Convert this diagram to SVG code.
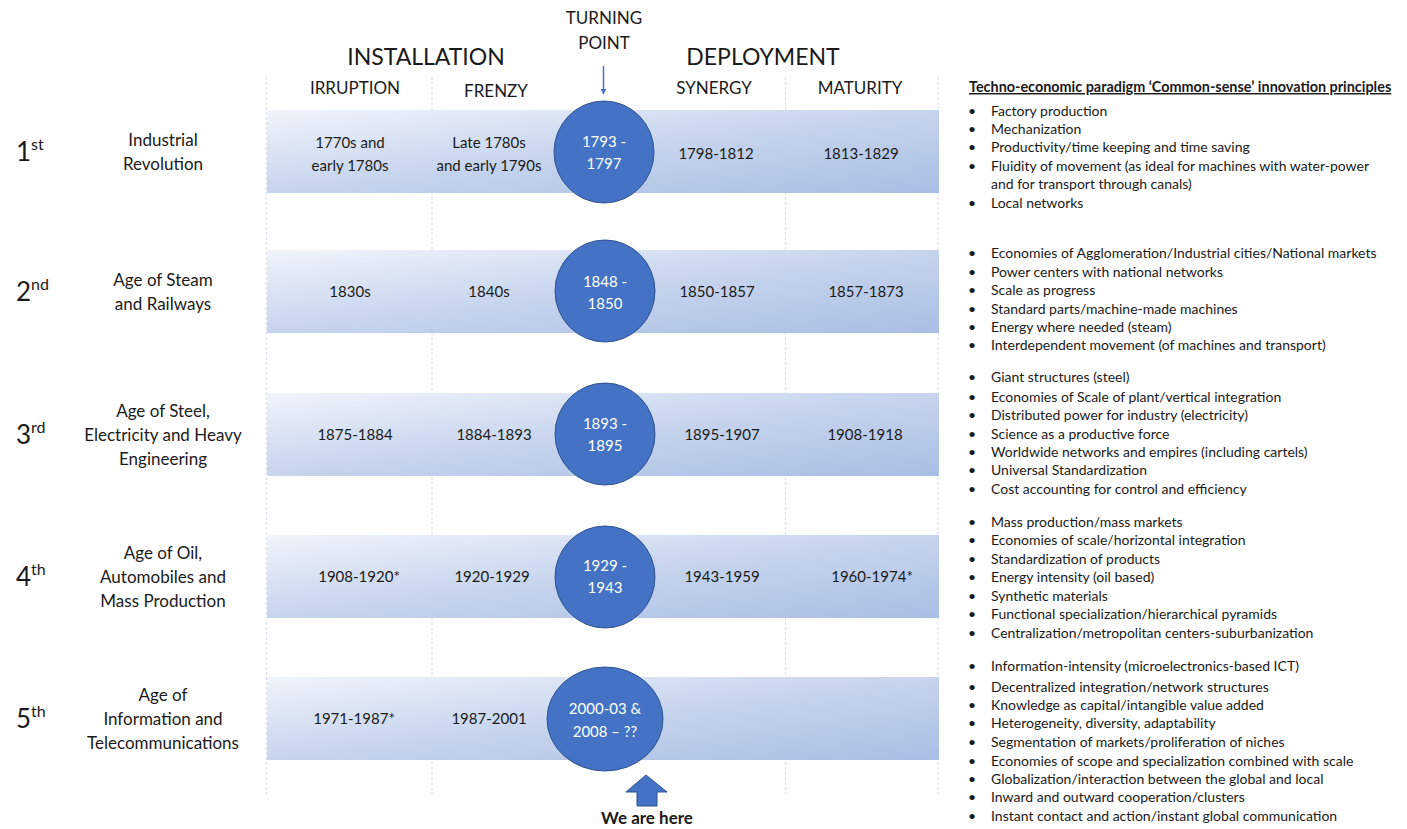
<svg xmlns="http://www.w3.org/2000/svg" width="1407" height="829" viewBox="0 0 1407 829">
<style>
text{font-family:Lato,"Open Sans","Liberation Sans",sans-serif;fill:#1a1a1a}
.big{font-size:23px}
.phase{font-size:17px}
.tp{font-size:17px}
.lab{font-size:17px;text-anchor:middle}
.d{font-size:15px;text-anchor:middle}
.c{font-size:15px;text-anchor:middle;fill:#ffffff}
.ord{font-size:26px}
.sup{font-size:16px}
.li{font-size:14px}
.hd{font-size:14.4px;font-weight:bold;text-decoration:underline}
.vl{stroke:#dbe3f0;stroke-width:1.2;stroke-dasharray:3 2}
.band{fill:url(#g)}
.circ{fill:#4472c4;stroke:#2f528f;stroke-width:1}
</style>
<defs>
<linearGradient id="g" x1="0" y1="0" x2="1" y2="1">
<stop offset="0" stop-color="#f1f4fb"/>
<stop offset="0.5" stop-color="#c6d4ed"/>
<stop offset="1" stop-color="#a9bee4"/>
</linearGradient>
<marker id="ah" viewBox="0 0 10 10" refX="9" refY="5" markerWidth="4" markerHeight="4" orient="auto">
<path d="M0,0 L10,5 L0,10 z" fill="#4472c4"/>
</marker>
</defs>
<rect width="1407" height="829" fill="#ffffff"/>

<g id="grid">
<line class="vl" x1="266.5" y1="77" x2="266.5" y2="794"/>
<line class="vl" x1="432" y1="77" x2="432" y2="794"/>
<line class="vl" x1="785.5" y1="77" x2="785.5" y2="794"/>
<line class="vl" x1="938" y1="77" x2="938" y2="794"/>
</g>

<g id="headers">
<text class="big" x="426" y="65" text-anchor="middle">INSTALLATION</text>
<text class="big" x="763" y="65" text-anchor="middle">DEPLOYMENT</text>
<text class="tp" x="604" y="24" text-anchor="middle">TURNING</text>
<text class="tp" x="604" y="49" text-anchor="middle">POINT</text>
<text class="phase" x="355" y="94" text-anchor="middle">IRRUPTION</text>
<text class="phase" x="496" y="97" text-anchor="middle">FRENZY</text>
<text class="phase" x="714" y="94" text-anchor="middle">SYNERGY</text>
<text class="phase" x="860" y="94" text-anchor="middle">MATURITY</text>
</g>

<g id="connectors">
<line x1="603.5" y1="66" x2="603.5" y2="94" stroke="#4472c4" stroke-width="1.5" marker-end="url(#ah)"/>
<path d="M646,775 L667,792 L657,792 L657,806 L637,806 L637,792 L626,792 Z" fill="#4472c4" stroke="#2f528f" stroke-width="1"/>
</g>

<g id="row1">
<rect class="band" x="267" y="110" width="672" height="83"/>
<text class="ord" x="16" y="161">1<tspan class="sup" dy="-11">st</tspan></text>
<text class="lab" x="163" y="146">Industrial</text>
<text class="lab" x="163" y="170">Revolution</text>
<text class="d" x="350" y="148">1770s and</text>
<text class="d" x="350" y="171">early 1780s</text>
<text class="d" x="489" y="148">Late 1780s</text>
<text class="d" x="489" y="171">and early 1790s</text>
<ellipse class="circ" cx="604" cy="152" rx="50" ry="51"/>
<text class="c" x="604" y="147">1793 -</text>
<text class="c" x="604" y="169">1797</text>
<text class="d" x="716" y="159">1798-1812</text>
<text class="d" x="861" y="159">1813-1829</text>
</g>

<g id="row2">
<rect class="band" x="267" y="250" width="672" height="83"/>
<text class="ord" x="16" y="301">2<tspan class="sup" dy="-11">nd</tspan></text>
<text class="lab" x="163" y="286">Age of Steam</text>
<text class="lab" x="163" y="310">and Railways</text>
<text class="d" x="350" y="297">1830s</text>
<text class="d" x="489" y="297">1840s</text>
<ellipse class="circ" cx="605" cy="291" rx="50" ry="51"/>
<text class="c" x="605" y="287">1848 -</text>
<text class="c" x="605" y="309">1850</text>
<text class="d" x="717" y="297">1850-1857</text>
<text class="d" x="866" y="297">1857-1873</text>
</g>

<g id="row3">
<rect class="band" x="267" y="393" width="672" height="83"/>
<text class="ord" x="16" y="444">3<tspan class="sup" dy="-11">rd</tspan></text>
<text class="lab" x="163" y="417">Age of Steel,</text>
<text class="lab" x="163" y="441">Electricity and Heavy</text>
<text class="lab" x="163" y="465">Engineering</text>
<text class="d" x="355" y="440">1875-1884</text>
<text class="d" x="494" y="440">1884-1893</text>
<ellipse class="circ" cx="605" cy="434" rx="50" ry="51"/>
<text class="c" x="605" y="429">1893 -</text>
<text class="c" x="605" y="451">1895</text>
<text class="d" x="722" y="440">1895-1907</text>
<text class="d" x="865" y="440">1908-1918</text>
</g>

<g id="row4">
<rect class="band" x="267" y="535" width="672" height="83"/>
<text class="ord" x="16" y="586">4<tspan class="sup" dy="-11">th</tspan></text>
<text class="lab" x="163" y="559">Age of Oil,</text>
<text class="lab" x="163" y="583">Automobiles and</text>
<text class="lab" x="163" y="607">Mass Production</text>
<text class="d" x="359" y="582">1908-1920*</text>
<text class="d" x="492" y="582">1920-1929</text>
<ellipse class="circ" cx="605" cy="577" rx="50" ry="51"/>
<text class="c" x="605" y="571">1929 -</text>
<text class="c" x="605" y="593">1943</text>
<text class="d" x="722" y="582">1943-1959</text>
<text class="d" x="872" y="582">1960-1974*</text>
</g>

<g id="row5">
<rect class="band" x="267" y="677" width="672" height="83"/>
<text class="ord" x="16" y="728">5<tspan class="sup" dy="-11">th</tspan></text>
<text class="lab" x="163" y="701">Age of</text>
<text class="lab" x="163" y="725">Information and</text>
<text class="lab" x="163" y="749">Telecommunications</text>
<text class="d" x="354" y="724">1971-1987*</text>
<text class="d" x="489" y="724">1987-2001</text>
<ellipse class="circ" cx="605" cy="719" rx="58" ry="52"/>
<text class="c" x="605" y="714">2000-03 &amp;</text>
<text class="c" x="605" y="737">2008 – ??</text>
</g>

<g id="here">
<text x="647" y="824" text-anchor="middle" style="font-size:17px;font-weight:bold">We are here</text>
</g>

<g id="principles">
<text class="hd" x="969" y="92">Techno-economic paradigm ‘Common-sense’ innovation principles</text>
<g class="li">
<text x="968" y="116">•</text><text x="991" y="116">Factory production</text>
<text x="968" y="134">•</text><text x="991" y="134">Mechanization</text>
<text x="968" y="152">•</text><text x="991" y="152">Productivity/time keeping and time saving</text>
<text x="968" y="171">•</text><text x="991" y="171">Fluidity of movement (as ideal for machines with water-power</text>
<text x="991" y="189">and for transport through canals)</text>
<text x="968" y="208">•</text><text x="991" y="208">Local networks</text>

<text x="968" y="258">•</text><text x="991" y="258">Economies of Agglomeration/Industrial cities/National markets</text>
<text x="968" y="277">•</text><text x="991" y="277">Power centers with national networks</text>
<text x="968" y="295">•</text><text x="991" y="295">Scale as progress</text>
<text x="968" y="314">•</text><text x="991" y="314">Standard parts/machine-made machines</text>
<text x="968" y="332">•</text><text x="991" y="332">Energy where needed (steam)</text>
<text x="968" y="350">•</text><text x="991" y="350">Interdependent movement (of machines and transport)</text>

<text x="968" y="382">•</text><text x="991" y="382">Giant structures (steel)</text>
<text x="968" y="402">•</text><text x="991" y="402">Economies of Scale of plant/vertical integration</text>
<text x="968" y="420">•</text><text x="991" y="420">Distributed power for industry (electricity)</text>
<text x="968" y="439">•</text><text x="991" y="439">Science as a productive force</text>
<text x="968" y="457">•</text><text x="991" y="457">Worldwide networks and empires (including cartels)</text>
<text x="968" y="475">•</text><text x="991" y="475">Universal Standardization</text>
<text x="968" y="494">•</text><text x="991" y="494">Cost accounting for control and efficiency</text>

<text x="968" y="527">•</text><text x="991" y="527">Mass production/mass markets</text>
<text x="968" y="545">•</text><text x="991" y="545">Economies of scale/horizontal integration</text>
<text x="968" y="564">•</text><text x="991" y="564">Standardization of products</text>
<text x="968" y="582">•</text><text x="991" y="582">Energy intensity (oil based)</text>
<text x="968" y="601">•</text><text x="991" y="601">Synthetic materials</text>
<text x="968" y="619">•</text><text x="991" y="619">Functional specialization/hierarchical pyramids</text>
<text x="968" y="638">•</text><text x="991" y="638">Centralization/metropolitan centers-suburbanization</text>

<text x="968" y="671">•</text><text x="991" y="671">Information-intensity (microelectronics-based ICT)</text>
<text x="968" y="692">•</text><text x="991" y="692">Decentralized integration/network structures</text>
<text x="968" y="710">•</text><text x="991" y="710">Knowledge as capital/intangible value added</text>
<text x="968" y="728">•</text><text x="991" y="728">Heterogeneity, diversity, adaptability</text>
<text x="968" y="747">•</text><text x="991" y="747">Segmentation of markets/proliferation of niches</text>
<text x="968" y="766">•</text><text x="991" y="766">Economies of scope and specialization combined with scale</text>
<text x="968" y="784">•</text><text x="991" y="784">Globalization/interaction between the global and local</text>
<text x="968" y="802">•</text><text x="991" y="802">Inward and outward cooperation/clusters</text>
<text x="968" y="821">•</text><text x="991" y="821">Instant contact and action/instant global communication</text>
</g>
</g>
</svg>
